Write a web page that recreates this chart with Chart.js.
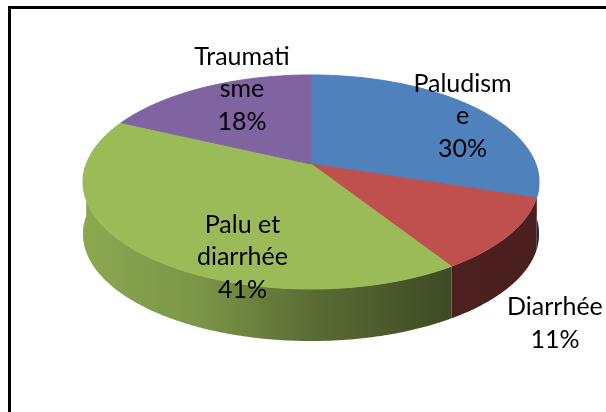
<!DOCTYPE html>
<html><head><meta charset="utf-8">
<script src="https://cdn.jsdelivr.net/npm/chart.js@4"></script>
<style>html,body{margin:0;padding:0;background:#fff;overflow:hidden}#wrap{width:606px;height:412px;position:relative}</style>
</head><body><div id="wrap"><canvas id="c" width="606" height="412"></canvas></div>
<script>
// ---- data ----
const categories = ["Paludisme", "Diarrhée", "Palu et diarrhée", "Traumatisme"];
const values = [30, 11, 41, 18];
const colors = ["#4F81BD", "#C0504D", "#9BBB59", "#8064A2"];
// label lines as wrapped in the picture
const labelLines = [["Paludism", "e"], ["Diarrhée"], ["Palu et", "diarrhée"], ["Traumati", "sme"]];

// ---- layout / perspective view (not data) ----
const VIEW = { x0: 311, y0: 164, a: 224.8, b: 104, q: 0.168, depth: 52 };
const labelAnchors = [[0.674, -0.462], [1.085, 1.534], [-0.305, 0.894], [-0.307, -0.721]];
const FONT = '25px Lato';
const LINE_H = 32.5;

// perspective projection of the pie plane (library pie coords -> screen)
function makeProjector(ox, oy, R) {
  return (x, y) => {
    const u = (x - ox) / R, w = (y - oy) / R;
    const D = 1 - VIEW.q * w;
    return [VIEW.x0 + VIEW.a * u / D, VIEW.y0 + VIEW.b * w / D];
  };
}

// context proxy: lets the library's own ArcElement.draw() path through the projection
function makeProjCtx(ctx, proj) {
  let has = false;
  const api = {
    beginPath() { has = false; ctx.beginPath(); },
    moveTo(x, y) { const p = proj(x, y); ctx.moveTo(p[0], p[1]); has = true; },
    lineTo(x, y) { const p = proj(x, y); if (has) ctx.lineTo(p[0], p[1]); else ctx.moveTo(p[0], p[1]); has = true; },
    closePath() { ctx.closePath(); },
    arc(x, y, r, a0, a1, ccw) {
      if (![x, y, r, a0, a1].every(Number.isFinite)) return;
      if (!ccw) { while (a1 < a0) a1 += 2 * Math.PI; } else { while (a1 > a0) a1 -= 2 * Math.PI; }
      const n = Math.max(2, Math.ceil(Math.abs(a1 - a0) / (Math.PI / 360)));
      for (let k = 0; k <= n; k++) {
        const t = a0 + (a1 - a0) * k / n;
        api.lineTo(x + r * Math.cos(t), y + r * Math.sin(t));
      }
    },
    translate() {}
  };
  return new Proxy(ctx, {
    get(target, prop) {
      if (prop in api) return api[prop];
      const v = target[prop];
      return typeof v === 'function' ? v.bind(target) : v;
    },
    set(target, prop, value) { target[prop] = value; return true; }
  });
}

const pie3d = {
  id: 'pie3d',
  beforeDraw(chart) {
    const ctx = chart.ctx;
    ctx.save();
    ctx.fillStyle = '#fff';
    ctx.fillRect(0, 0, chart.width, chart.height);
    ctx.strokeStyle = '#000';
    ctx.lineWidth = 3;
    ctx.strokeRect(9.5, 7.5, 700, 500);
    ctx.restore();
  },
  beforeDatasetsDraw(chart) {
    const meta = chart.getDatasetMeta(0);
    const a0 = meta.data[0];
    const R = a0.outerRadius, ox = a0.x, oy = a0.y;
    const proj = makeProjector(ox, oy, R);
    const ctx = chart.ctx;
    // side walls (front half), built from each arc element's angles
    const xl = VIEW.x0 - 228, xr = VIEW.x0 + 228;
    meta.data.forEach((arc, i) => {
      const s1 = Math.max(arc.startAngle, 0), s2 = Math.min(arc.endAngle, Math.PI);
      if (s2 <= s1) return;
      const n = Math.max(2, Math.ceil((s2 - s1) / (Math.PI / 360)));
      const pts = [];
      for (let k = 0; k <= n; k++) {
        const t = s1 + (s2 - s1) * k / n;
        pts.push(proj(ox + R * Math.cos(t), oy + R * Math.sin(t)));
      }
      ctx.save();
      ctx.beginPath();
      pts.forEach((p, k) => k ? ctx.lineTo(p[0], p[1]) : ctx.moveTo(p[0], p[1]));
      for (let k = pts.length - 1; k >= 0; k--) ctx.lineTo(pts[k][0], pts[k][1] + VIEW.depth);
      ctx.closePath();
      ctx.fillStyle = colors[i];
      ctx.fill();
      const g = ctx.createLinearGradient(xl, 0, xr, 0);
      g.addColorStop(0, 'rgba(0,0,0,0.10)');
      g.addColorStop(0.25, 'rgba(0,0,0,0.20)');
      g.addColorStop(0.5, 'rgba(0,0,0,0.42)');
      g.addColorStop(0.8, 'rgba(0,0,0,0.60)');
      g.addColorStop(1, 'rgba(0,0,0,0.62)');
      ctx.fillStyle = g;
      ctx.fill();
      ctx.restore();
    });
    // top faces: the library's own arc elements, drawn through the projection
    const pctx = makeProjCtx(ctx, proj);
    meta.data.forEach(el => el.draw(pctx, chart.chartArea));
    // labels
    const total = values.reduce((s, v) => s + v, 0);
    ctx.save();
    ctx.font = FONT;
    ctx.fillStyle = '#000';
    ctx.textAlign = 'center';
    ctx.textBaseline = 'middle';
    meta.data.forEach((arc, i) => {
      const lines = labelLines[i].concat([Math.round(values[i] / total * 100) + '%']);
      const [u, v] = labelAnchors[i];
      const x = VIEW.x0 + u * VIEW.a;
      const y0 = VIEW.y0 + v * VIEW.b - (lines.length - 1) * LINE_H / 2;
      lines.forEach((t, k) => ctx.fillText(t, x, y0 + k * LINE_H));
    });
    ctx.restore();
    return false; // default flat drawing replaced by the projected one above
  }
};

function draw() {
  new Chart(document.getElementById('c'), {
    type: 'pie',
    data: {
      labels: categories,
      datasets: [{ data: values, backgroundColor: colors, borderColor: colors, borderWidth: 1, clip: false }]
    },
    options: {
      responsive: false,
      animation: false,
      events: [],
      layout: { padding: { left: 15, right: 0, top: 0, bottom: 0 } },
      plugins: { legend: { display: false }, tooltip: { enabled: false } }
    },
    plugins: [pie3d]
  });
}
if (document.fonts && document.fonts.load) {
  document.fonts.load(FONT).then(draw, draw);
} else { draw(); }
</script></body></html>
